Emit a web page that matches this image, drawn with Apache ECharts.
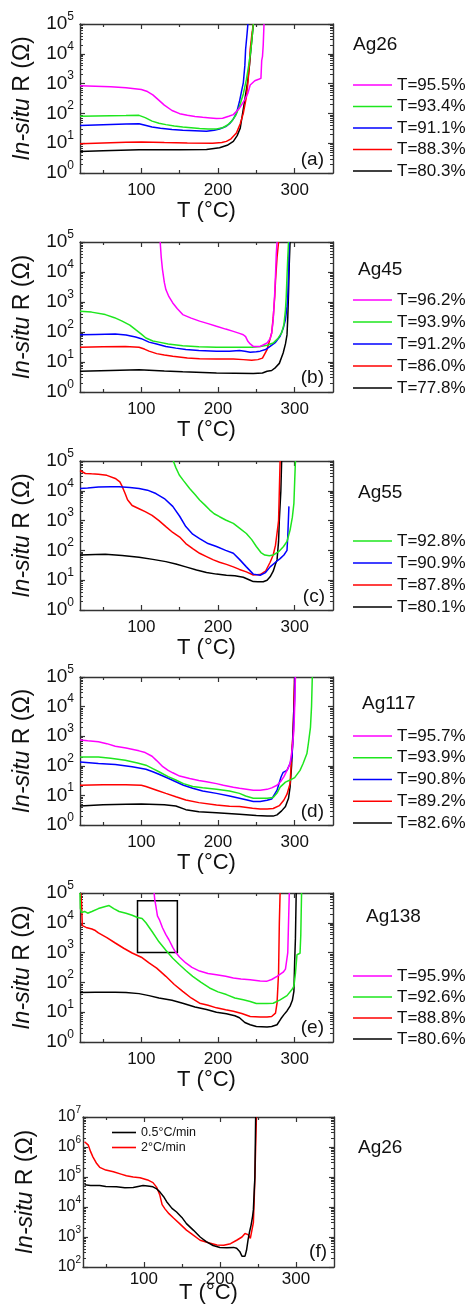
<!DOCTYPE html>
<html><head><meta charset="utf-8">
<script src="https://cdn.jsdelivr.net/npm/echarts@6/dist/echarts.min.js"></script>
<style>html,body{margin:0;padding:0;background:#fff}#c{width:469px;height:1307px}</style>
</head><body><div id="c"></div>
<script>
// ---------- tick labels ----------
const X_MAJOR = [100, 200, 300];
const X_MINOR = [50, 150, 250];
const X_RANGE = [20, 350];

// ---------- (a) Ag26 : [T (°C), R (Ω)] ----------
const A_955 = [[20,850],[40,820],[60,790],[80,730],[100,630],[108,540],[115,420],[122,290],[130,190],[140,125],[150,98],[160,86],[170,79],[180,74],[190,70],[198,67],[206,69],[214,80],[220,91],[228,150],[235,290],[239,480],[242,900],[248,1250],[253,1400],[256,1500],[257,6000],[258,8000],[259,20000],[260,100000]];
const A_934 = [[20,80],[40,82],[60,84],[80,85],[97,86],[105,72],[114,55],[123,47],[132,42],[143,38],[154,35],[165,33],[176,31],[187,30],[198,30],[206,33],[212,40],[218,55],[223,85],[228,170],[233,450],[237,1350],[240,4000],[243,14000],[245,50000],[246,100000]];
const A_911 = [[20,39],[50,42],[80,44],[97,45],[105,40],[114,35],[125,32],[140,29],[154,27],[170,26],[185,25],[195,27],[202,30],[210,36],[215,45],[220,65],[224,100],[228,250],[231,600],[233,1050],[235,4000],[236,14000],[238,50000],[239,100000]];
const A_883 = [[20,9.6],[50,10.2],[80,10.8],[100,11],[130,10.5],[160,10.2],[193,10],[205,10.5],[211,11.5],[217,14],[224,22],[229,45],[233,100],[237,350],[239,1050],[241,4500],[242,14000],[244,40000],[246,100000]];
const A_803 = [[20,5.3],[50,5.6],[97,6],[150,6],[185,6.2],[202,7],[212,8.5],[220,11.5],[225,18],[229,32],[234,200],[238.6,1150],[241,4000],[243,15000],[245,50000],[246,100000]];

// ---------- (b) Ag45 ----------
const B_962 = [[124.6,100000],[126,30000],[127.6,12000],[130,4500],[132,2600],[136,1500],[141,930],[147,600],[154,380],[165,290],[176,230],[187,190],[198,155],[210,125],[220,105],[228,90],[233,81],[236,70],[239,49],[242,40],[246,33],[255,33],[264,43],[268,60],[270,93],[272,250],[274,2000],[275,8000],[276,40000],[277,100000]];
const B_939 = [[20,490],[35,460],[53,380],[65,300],[75,230],[85,170],[92.5,120],[100,85],[106,63],[115,50],[123,46],[135,40],[154,35],[175,32],[198,31],[228,31],[245,31],[255,33],[264,36],[272,43],[278,60],[283,93],[286,180],[288,550],[289,1500],[290,7000],[291,30000],[292,100000]];
const B_912 = [[20,81],[40,83],[66,85],[80,80],[92.5,68],[100,60],[110,46],[120,40],[132,33],[145,29],[158,26],[175,24],[198,23],[215,23],[228,24],[235,23],[242,21],[250,22],[255,23],[262,26],[268,33],[275,45],[281,72],[285,130],[288,260],[290,700],[291,1550],[292,10000],[293,100000]];
const B_860 = [[20,31],[50,32],[79,33],[97,31],[104,27],[110,23],[120,19],[130,17],[141,15.5],[160,13.5],[176,12.9],[198,12.6],[220,12.6],[233,12],[244,11.5],[252,12],[258,13.5],[264,26],[268,60],[270,93],[272,300],[274,1500],[275,5000],[277,30000],[279,100000]];
const B_778 = [[20,4.9],[60,5.2],[97,5.5],[130,5],[154,4.7],[198,4.3],[246,4.1],[258,4.3],[264,4.9],[270,5.2],[275,6.5],[280,9],[285,20],[288,40],[290,80],[291,300],[292,2000],[293,20000],[294,100000]];

// ---------- (c) Ag55 ----------
const C_928 = [[141.7,100000],[145,60000],[149.5,34000],[155,22000],[163,12000],[170,7500],[176,4900],[183,3300],[189,2300],[195,1700],[202,1350],[210,1050],[220,810],[228,560],[237,370],[244,230],[250,135],[256,85],[261,70],[267,66],[272,70],[280,95],[285.5,135],[290,200],[294,480],[297,1300],[299,3800],[300,20000],[301,100000]];
const C_909 = [[20,12000],[30,12500],[44,13500],[60,13700],[71,13700],[85,13000],[97,12000],[108,10500],[119,8100],[130,5500],[141,3000],[150,1400],[158,630],[167,350],[176,250],[187,170],[198,135],[210,100],[220,80],[228,50],[237,28],[246,16],[255,14.7],[262,18],[268,28],[275,40],[281,53],[286,70],[290,100],[291,300],[292.5,3000]];
const C_878 = [[20,48000],[22,42000],[27,38000],[35,37000],[44,36000],[55,33000],[66,26000],[72,20000],[75,14000],[79,8000],[82,5000],[88,3200],[97,2500],[105,2000],[114,1500],[123,1000],[132,630],[141,400],[150,280],[158,170],[167,115],[176,80],[185,62],[194,48],[202,40],[211,34],[220,28],[228,23],[237,19],[246,15],[255,15.5],[262,20],[268,40],[272,70],[275,150],[278,600],[279,1000],[280,10000],[281,100000]];
const C_801 = [[20,70],[40,73],[53,74],[75,68],[97,59],[115,50],[132,42],[145,35],[158,28],[172,22],[185,18],[198,16],[211,14.7],[222,14],[233,12.6],[242,10],[246,9],[252,8.8],[259,8.9],[264,10],[268,13],[272,20],[275,35],[277,48],[279,200],[280,1050],[282,10000],[283,100000]];

// ---------- (d) Ag117 ----------
const D_957 = [[20,740],[30,700],[44,650],[55,560],[66,460],[80,400],[97,320],[105,280],[114,210],[120,150],[128,93],[135,70],[141,58],[150,45],[163,37],[175,32],[185,29],[198,25],[207,22],[220,19],[228,17.4],[246,15],[255,15],[264,16],[270,18],[277,22],[282,30],[286,43],[290,70],[294,120],[297,400],[299,1600],[300,10000],[301,100000]];
const D_939 = [[20,200],[44,200],[60,180],[79,155],[95,125],[106,105],[115,80],[123,63],[135,43],[145,33],[155,25],[167,20],[180,18],[198,16],[215,14],[228,11.7],[236,9.5],[246,8],[255,8],[264,8],[272,8.5],[277,12],[281,19],[288,28],[294,33],[300,40],[307,70],[311,120],[316,260],[318,600],[320.6,2000],[322,10000],[323,100000]];
const D_908 = [[20,135],[22,120],[44,120],[66,110],[88,93],[106,76],[115,63],[123,52],[135,38],[145,29],[155,22],[167,17.4],[180,14],[198,11.7],[215,9.5],[228,8],[238,7],[246,6.2],[255,6.2],[264,6.9],[270,7.5],[277,15],[282,40],[283.5,50],[285,60],[290,70],[294,120],[296.5,200],[298,1000],[299,4500],[300,20000],[300.5,100000]];
const D_892 = [[20,22],[50,23],[80,23],[100,22],[106,20],[120,15],[132,11.7],[145,9],[158,7],[175,5.7],[198,4.7],[215,4.3],[228,4.2],[245,3.7],[255,3.5],[264,3.5],[272,3.6],[280,4.5],[286,7],[290,11],[294,25],[296,200],[298,1600],[299,10000],[300,100000]];
const D_826 = [[20,4.4],[50,4.8],[80,5],[100,5.1],[130,4.8],[145,4.4],[158,3.3],[175,2.8],[198,2.6],[228,2.3],[250,2.1],[264,2],[272,2],[277,2.2],[283,3],[288,4.2],[292,8],[294,19],[296,100],[298,1600],[299,10000],[300,100000]];

// ---------- (e) Ag138 ----------
const E_959 = [[116.7,100000],[117.5,60000],[119,36000],[121,17000],[124,12000],[127.6,6800],[132,4000],[136,2700],[141,1500],[145,1000],[150,700],[158,450],[166,320],[176,240],[187,200],[198,180],[210,160],[220,140],[230,130],[242,123],[255,112],[264,110],[270,125],[277,160],[285,220],[288,280],[290,300],[291,1000],[292,10000],[293,100000]];
const E_926 = [[20,100000],[20.5,30000],[22,22000],[26,24000],[30,21000],[35.5,24000],[44,30000],[53,35000],[58,38000],[64,30000],[71,24000],[80,21000],[88,18000],[95,15000],[101,14000],[106,10000],[114,5100],[123,2300],[132,1200],[141,650],[149.5,400],[158,250],[167,160],[178,100],[189,65],[200,48],[211,39],[222,30],[233,26],[242,23],[250,19.5],[264,19.5],[272,20],[281,26],[290,36],[297,60],[299,75],[301,200],[303,850],[305,900],[307,950],[308,4000],[309,100000]];
const E_888 = [[21,100000],[22,50000],[23,8000],[28,7000],[35.5,6200],[40,5500],[44,4600],[55,3200],[66,2100],[77,1400],[88,970],[100,700],[110,450],[120,300],[132,160],[143,85],[154,50],[165,30],[176,20],[187,17],[198,14],[210,12],[220,10.7],[231,9],[242,7.2],[255,6.9],[264,6.9],[270,7.2],[275,9.3],[277,20],[279,210],[280,10000],[281,100000]];
const E_806 = [[20,46],[40,47],[66,47],[80,46],[97,42],[110,36],[123,30],[140,25],[154,20],[170,15],[185,12.3],[198,10],[211,8.9],[222,7.6],[228,6.5],[235,4.5],[242,3.8],[250,3.3],[264,3.2],[270,3.3],[277,3.8],[282,6],[286,8.3],[290,11],[294,16],[297,25],[299,50],[300,500],[301,3000],[302,100000]];
const E_BOX = [95, 147, 1000, 55000]; // Tmin, Tmax, Rmin, Rmax

// ---------- (f) Ag26 heating rates ----------
const F_05 = [[22,55000],[30,52000],[42,52000],[50,48000],[64,47000],[75,44000],[86,45000],[99,52000],[105,50000],[112,47000],[117,40000],[121,32000],[126,22000],[130,15000],[137,9000],[143,6800],[150,4500],[156,2800],[165,1700],[174,1000],[182,700],[191,520],[200,450],[209,440],[218,450],[222,420],[226,330],[229,230],[231,200],[233,230],[235,360],[237,800],[239,1500],[241,2500],[243,5000],[244,8000],[245,30000],[246,100000],[246.5,1000000],[247,10000000]];
const F_2 = [[22,1500000],[24,1300000],[27,1150000],[30,700000],[33,470000],[38,280000],[42,210000],[50,170000],[60,150000],[70,125000],[77,110000],[86,100000],[95,95000],[105,80000],[112,65000],[117,45000],[121,25000],[124,12000],[128,8500],[133,6000],[139,4300],[147,2800],[156,1700],[165,1150],[174,780],[185,640],[196,540],[205,530],[214,600],[222,780],[229,1000],[233,1300],[237,1200],[240,900],[242,870],[244,3000],[245,15000],[246,100000],[247,1000000],[248,10000000]];

const COL = {m:'#ff00ff', g:'#1ee61e', b:'#0000ff', r:'#ff0000', k:'#000000'};

const PANELS = [
  {sample:'Ag26', tag:'(a)', ylo:0, yhi:5, lines:[['T=95.5%',COL.m,A_955],['T=93.4%',COL.g,A_934],['T=91.1%',COL.b,A_911],['T=88.3%',COL.r,A_883],['T=80.3%',COL.k,A_803]]},
  {sample:'Ag45', tag:'(b)', ylo:0, yhi:5, lines:[['T=96.2%',COL.m,B_962],['T=93.9%',COL.g,B_939],['T=91.2%',COL.b,B_912],['T=86.0%',COL.r,B_860],['T=77.8%',COL.k,B_778]]},
  {sample:'Ag55', tag:'(c)', ylo:0, yhi:5, lines:[['T=92.8%',COL.g,C_928],['T=90.9%',COL.b,C_909],['T=87.8%',COL.r,C_878],['T=80.1%',COL.k,C_801]]},
  {sample:'Ag117', tag:'(d)', ylo:0, yhi:5, lines:[['T=95.7%',COL.m,D_957],['T=93.9%',COL.g,D_939],['T=90.8%',COL.b,D_908],['T=89.2%',COL.r,D_892],['T=82.6%',COL.k,D_826]]},
  {sample:'Ag138', tag:'(e)', ylo:0, yhi:5, box:E_BOX, lines:[['T=95.9%',COL.m,E_959],['T=92.6%',COL.g,E_926],['T=88.8%',COL.r,E_888],['T=80.6%',COL.k,E_806]]},
  {sample:'Ag26', tag:'(f)', ylo:2, yhi:7, lines:[['0.5°C/min',COL.k,F_05],['2°C/min',COL.r,F_2]]}
];

// legend: [left, top, itemGap, rowHeight, iconWidth, fontSize]
const LAYOUT = [
  {grid:[80,24,253,149],  sample:[353,45],   tag:[324,160],  legend:[348,71.5,4.5,17,39,17],  xm:9, ng:27, ym:6, yf:19},
  {grid:[80,242,253,150], sample:[358,270],  tag:[324,378],  legend:[348,286.5,5,17,39,17],   xm:9, ng:27, ym:6, yf:19},
  {grid:[80,461,253,149], sample:[358,493],  tag:[325,597],  legend:[348,527.5,5,17,39,17],   xm:9, ng:27, ym:6, yf:19},
  {grid:[80,677,253,148], sample:[362,704],  tag:[324,812],  legend:[348,722.5,4.75,17,39,17],xm:9, ng:27, ym:6, yf:19},
  {grid:[80,893,253,149], sample:[366,917],  tag:[324,1028], legend:[348,962.5,4,17,39,17],   xm:9, ng:27, ym:6, yf:19},
  {grid:[83,1117,251,150],sample:[358,1148], tag:[327,1252], legend:[107,1121,2,12,24,12.5],  xm:4, ng:15, ym:2, yf:16}
];

const FONT = 'Liberation Sans, Arial, sans-serif';
const AX = '#333';
function minorLog(lo, hi){ const o=[]; for(let e=lo;e<hi;e++) for(let k=2;k<=9;k++) o.push(e+Math.log10(k)); return o; }

const opt = {animation:false, backgroundColor:'#fff', grid:[], xAxis:[], yAxis:[], series:[], legend:[], graphic:[]};

PANELS.forEach((p, i) => {
  const L = LAYOUT[i];
  opt.grid.push({left:L.grid[0], top:L.grid[1], width:L.grid[2], height:L.grid[3], containLabel:false, outerBoundsMode:'none'});
  const tickStyle = {color:AX, width:1.2};
  const xBase = {type:'value', gridIndex:i, min:X_RANGE[0], max:X_RANGE[1], splitLine:{show:false}};
  const xi = opt.xAxis.length;
  opt.xAxis.push(Object.assign({}, xBase, {position:'bottom',
    axisLine:{show:true, onZero:false, lineStyle:{color:AX, width:1.4}},
    axisTick:{show:true, inside:true, length:5, customValues:X_MAJOR, lineStyle:tickStyle},
    axisLabel:{show:true, customValues:X_MAJOR, margin:L.xm, fontSize:17, color:'#111', fontFamily:FONT},
    name:'T (°C)', nameLocation:'middle', nameGap:L.ng, nameMoveOverlap:false,
    nameTextStyle:{fontSize:22, color:'#111', fontFamily:FONT}}));
  opt.xAxis.push(Object.assign({}, xBase, {position:'bottom', axisLine:{show:false, onZero:false},
    axisTick:{show:true, inside:true, length:3, customValues:X_MINOR, lineStyle:tickStyle}, axisLabel:{show:false}}));
  opt.xAxis.push(Object.assign({}, xBase, {position:'top', axisLine:{show:true, onZero:false, lineStyle:{color:AX, width:1.4}},
    axisTick:{show:true, inside:true, length:5, customValues:X_MAJOR, lineStyle:tickStyle}, axisLabel:{show:false}}));
  opt.xAxis.push(Object.assign({}, xBase, {position:'top', axisLine:{show:false, onZero:false},
    axisTick:{show:true, inside:true, length:3, customValues:X_MINOR, lineStyle:tickStyle}, axisLabel:{show:false}}));

  const yi = opt.yAxis.length;
  opt.yAxis.push({type:'log', logBase:10, gridIndex:i, min:Math.pow(10,p.ylo), max:Math.pow(10,p.yhi), position:'left',
    splitLine:{show:false},
    axisLine:{show:true, onZero:false, lineStyle:{color:AX, width:1.4}},
    axisTick:{show:true, inside:true, length:5, lineStyle:tickStyle},
    axisLabel:{show:true, margin:L.ym, fontSize:L.yf, lineHeight:L.yf+8, color:'#111', fontFamily:FONT,
      formatter: v => '10{s|' + Math.round(Math.log10(v)) + '}',
      rich:{s:{fontSize:Math.round(L.yf*0.62), lineHeight:12, verticalAlign:'top', color:'#111', fontFamily:FONT}}},
    name:'{i|In-situ} R (Ω)', nameLocation:'middle', nameGap:46, nameMoveOverlap:false,
    nameTextStyle:{fontSize:23, color:'#111', fontFamily:FONT, rich:{i:{fontStyle:'italic', fontSize:23, color:'#111', fontFamily:FONT}}}});
  const yDec = {type:'value', gridIndex:i, min:p.ylo, max:p.yhi, splitLine:{show:false}, axisLabel:{show:false}};
  opt.yAxis.push(Object.assign({}, yDec, {position:'left', axisLine:{show:false, onZero:false},
    axisTick:{show:true, inside:true, length:3, customValues:minorLog(p.ylo,p.yhi), lineStyle:{color:AX, width:1}}}));
  opt.yAxis.push(Object.assign({}, yDec, {position:'right', interval:1, axisLine:{show:true, onZero:false, lineStyle:{color:AX, width:1.4}},
    axisTick:{show:true, inside:true, length:5, lineStyle:tickStyle}}));
  opt.yAxis.push(Object.assign({}, yDec, {position:'right', axisLine:{show:false, onZero:false},
    axisTick:{show:true, inside:true, length:3, customValues:minorLog(p.ylo,p.yhi), lineStyle:{color:AX, width:1}}}));

  const names = [];
  p.lines.slice().reverse().forEach(([name, color, data]) => {
    names.unshift(name);
    opt.series.push({type:'line', name, xAxisIndex:xi, yAxisIndex:yi, data, symbol:'none', showSymbol:false,
      lineStyle:{color, width:1.5}, itemStyle:{color}, clip:true, silent:true});
  });
  if (p.box) {
    opt.series.push({type:'line', name:'box', xAxisIndex:xi, yAxisIndex:yi, data:[], symbol:'none', silent:true,
      markArea:{silent:true, label:{show:false}, itemStyle:{color:'rgba(0,0,0,0)', borderColor:'#000', borderWidth:1.5},
        data:[[{coord:[p.box[0], p.box[3]]},{coord:[p.box[1], p.box[2]]}]]}});
  }
  opt.legend.push({left:L.legend[0], top:L.legend[1], orient:'vertical', itemGap:L.legend[2], itemHeight:1.6,
    itemWidth:L.legend[4], icon:'rect', selectedMode:false, data:names,
    textStyle:{fontSize:L.legend[5], lineHeight:L.legend[3], color:'#111', fontFamily:FONT}});
  opt.graphic.push({type:'text', x:L.sample[0], y:L.sample[1], silent:true,
    style:{text:p.sample, font:'19px ' + FONT, fill:'#111', align:'left', verticalAlign:'middle'}});
  opt.graphic.push({type:'text', x:L.tag[0], y:L.tag[1], silent:true,
    style:{text:p.tag, font:'19px ' + FONT, fill:'#111', align:'right', verticalAlign:'middle'}});
});

const chart = echarts.init(document.getElementById('c'), null, {renderer:'canvas'});
chart.setOption(opt);
</script>
</body></html>
